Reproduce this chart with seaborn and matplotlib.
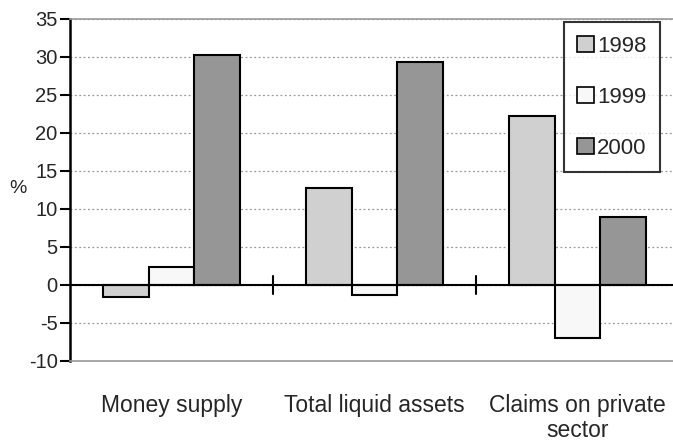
import pandas as pd
import matplotlib
matplotlib.use("Agg")
import matplotlib.pyplot as plt
import seaborn as sns

# --- data ---
categories = ["Money supply", "Total liquid assets", "Claims on private\nsector"]
years = ["1998", "1999", "2000"]
values_1998 = [-1.6, 12.8, 22.3]
values_1999 = [2.4, -1.3, -7.0]
values_2000 = [30.3, 29.4, 8.9]
y_ticks = [-10, -5, 0, 5, 10, 15, 20, 25, 30, 35]

colors = {"1998": "#d0d0d0", "1999": "#f8f8f8", "2000": "#969696"}

df = pd.DataFrame({
    "category": categories * 3,
    "year": [y for y in years for _ in categories],
    "value": values_1998 + values_1999 + values_2000,
})

sns.set_style("white")
plt.rcParams["font.family"] = ["Liberation Sans", "DejaVu Sans"]
plt.rcParams["axes.unicode_minus"] = False

fig = plt.figure(figsize=(6.73, 4.41), dpi=100)
ax = fig.add_axes([70 / 673, 80 / 441, 609 / 673, 342 / 441])

sns.barplot(data=df, x="category", y="value", hue="year", order=categories,
            hue_order=years, palette=colors, width=0.67, edgecolor="black",
            linewidth=1.5, saturation=1, ax=ax)

ax.set_ylim(-10, 35)
ax.set_xlim(-0.5, 2.5)
ax.set_yticks(y_ticks)
ax.yaxis.grid(True, linestyle=(0, (1.5, 2)), color="#999999", linewidth=0.9)
ax.set_axisbelow(True)
ax.axhline(0, color="black", linewidth=1.5, zorder=1)

# category separators on the zero line
for sep in [0.5, 1.5]:
    ax.plot([sep, sep], [-1.2, 1.2], color="black", linewidth=1.5, zorder=1)

for side in ["top", "bottom", "right"]:
    ax.spines[side].set_color("#999999")
    ax.spines[side].set_linewidth(1.2)
ax.spines["left"].set_color("black")
ax.spines["left"].set_linewidth(1.8)

ax.tick_params(axis="y", direction="out", length=7, width=1.5, color="black",
               labelsize=14.5, left=True, pad=2)
ax.tick_params(axis="x", length=0, labelsize=16.5, pad=24)
for lbl in ax.get_xticklabels():
    lbl.set_linespacing(1.1)

ax.set_xlabel("")
ax.set_ylabel("%", rotation=0, fontsize=14)
ax.yaxis.set_label_coords(-0.085, 0.48)

leg = ax.legend(loc="upper right", bbox_to_anchor=(0.969, 0.99), fontsize=16,
                frameon=True, fancybox=False, edgecolor="black",
                handlelength=0.75, handleheight=0.75, handletextpad=0.15,
                labelspacing=1.35, borderpad=0.6, borderaxespad=0)
leg.get_frame().set_linewidth(1.5)
for h in leg.legend_handles:
    h.set_edgecolor("black")
    h.set_linewidth(1.2)

fig.savefig("out.png", dpi=100)
